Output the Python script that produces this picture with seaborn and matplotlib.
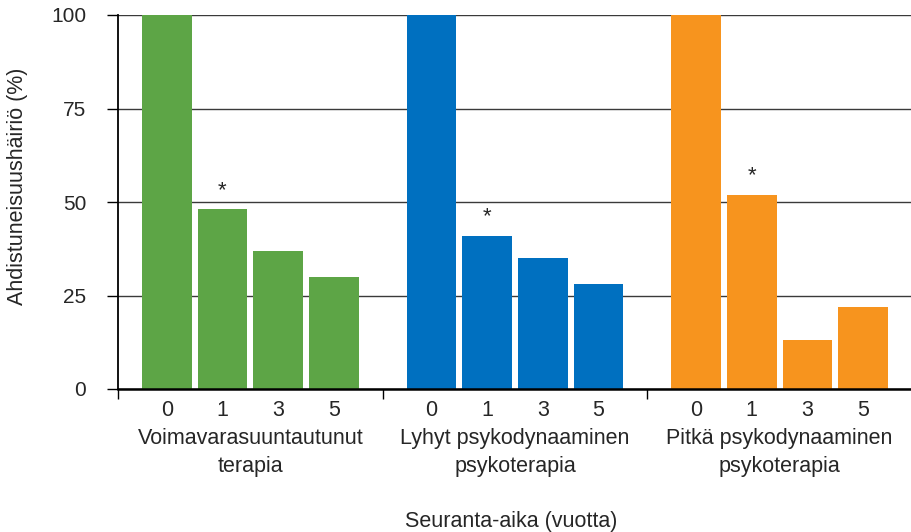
#%% Ahdistuneisuushäiriö seurannassa - pylväskaavio

import pandas as pd
import matplotlib.pyplot as plt
import seaborn as sns

#%% Data

ryhmat = ['Voimavarasuuntautunut\nterapia',
          'Lyhyt psykodynaaminen\npsykoterapia',
          'Pitkä psykodynaaminen\npsykoterapia']
vuodet = ['0', '1', '3', '5']
voimavara = [100, 48, 37, 30]
lyhyt = [100, 41, 35, 28]
pitka = [100, 52, 13, 22]
merkitsevat = ['1']  # tähti näiden vuosien päälle
varit = ['#5DA546', '#0070C0', '#F7941E']

#%% Taulukko

ryhman_vali = 4.75
rivit = []
for g, (nimi, arvot) in enumerate(zip(ryhmat, [voimavara, lyhyt, pitka])):
    for i, (v, a) in enumerate(zip(vuodet, arvot)):
        rivit.append({'ryhma': nimi, 'vuosi': v, 'pos': g * ryhman_vali + i, 'arvo': a})
df = pd.DataFrame(rivit)

#%% Kuva

sns.set_style('white')
plt.rcParams['font.family'] = ['Liberation Sans', 'DejaVu Sans']

fig = plt.figure(figsize=(9.12, 5.32), dpi=100)
ax = fig.add_axes([118 / 912, 1 - 389 / 532, 1 - 118 / 912, 374 / 532])

sns.barplot(data=df, x='pos', y='arvo', hue='ryhma', palette=varit,
            native_scale=True, dodge=False, width=0.89, legend=False,
            saturation=1, linewidth=0, ax=ax)

ax.set_xlim(-0.875, -0.875 + 794 / 56.2)
ax.set_ylim(0, 100)
ax.set_yticks([0, 25, 50, 75, 100])
ax.set_axisbelow(True)
ax.yaxis.grid(True, color='#3a3a3a', linewidth=1)
ax.xaxis.grid(False)

# vuodet tikkeinä, ryhmien rajat pieninä tikkeinä
ax.set_xticks(df['pos'])
ax.set_xticklabels(df['vuosi'])
rajat = [g * ryhman_vali - 0.875 for g in range(len(ryhmat) + 1)]
ax.set_xticks(rajat, minor=True)
ax.tick_params(axis='x', which='major', bottom=True, length=0, pad=8, labelsize=15.5)
ax.tick_params(axis='x', which='minor', bottom=True, length=7, width=1, color='black', direction='out')
ax.tick_params(axis='y', length=8, width=1, color='black', pad=15, labelsize=15, left=True)

for s in ['top', 'right']:
    ax.spines[s].set_visible(False)
ax.spines['left'].set_color('black')
ax.spines['left'].set_linewidth(1.3)
ax.spines['bottom'].set_color('black')
ax.spines['bottom'].set_linewidth(1.8)

ax.set_xlabel('')
ax.set_ylabel('')

# tähdet
for _, r in df[df['vuosi'].isin(merkitsevat)].iterrows():
    ax.text(r['pos'], r['arvo'] + 5, '*', ha='center', va='center', fontsize=16)

# ryhmien nimet
for g, nimi in enumerate(ryhmat):
    ax.text(g * ryhman_vali + 1.5, -0.104, nimi, transform=ax.get_xaxis_transform(),
            ha='center', va='top', fontsize=15.5, linespacing=1.45)

fig.text(511 / 912, 1 - 527 / 532, 'Seuranta-aika (vuotta)', ha='center', va='baseline', fontsize=15.5)
fig.text(18 / 912, 1 - 186 / 532, 'Ahdistuneisuushäiriö (%)', ha='center', va='center',
         rotation=90, fontsize=15.5)

fig.savefig('out.png', dpi=100)
